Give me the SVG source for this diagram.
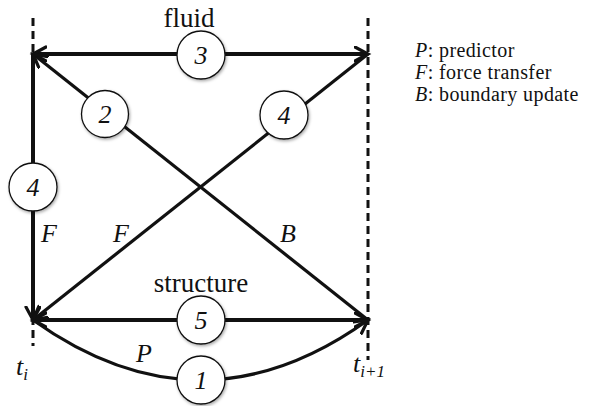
<svg xmlns="http://www.w3.org/2000/svg" width="604" height="406" viewBox="0 0 604 406">
<defs>
<marker id="ah" markerWidth="18" markerHeight="18" refX="14" refY="8" orient="auto" markerUnits="userSpaceOnUse">
<path d="M1,1 L14,8 L1,15" fill="none" stroke="#111" stroke-width="3.2" stroke-linecap="round" stroke-linejoin="miter"/>
</marker>
<marker id="ahs" markerWidth="18" markerHeight="18" refX="14" refY="8" orient="auto-start-reverse" markerUnits="userSpaceOnUse">
<path d="M1,1 L14,8 L1,15" fill="none" stroke="#111" stroke-width="3.2" stroke-linecap="round" stroke-linejoin="miter"/>
</marker>
<filter id="sh" x="-30%" y="-30%" width="160%" height="160%">
<feDropShadow dx="1" dy="1.5" stdDeviation="1.5" flood-color="#000" flood-opacity="0.35"/>
</filter>
</defs>
<style>
.dash{stroke:#111;stroke-width:3;stroke-dasharray:8 5;fill:none}
.thick{stroke:#111;stroke-width:4;fill:none}
.thin{stroke:#111;stroke-width:3.2;fill:none}
.node circle{fill:#fff;stroke:#111;stroke-width:1.3;filter:url(#sh)}
.num{font-family:"Liberation Serif","Times New Roman",serif;font-style:italic;font-size:26px;text-anchor:middle;fill:#111}
.lbl{font-family:"Liberation Serif","Times New Roman",serif;font-size:27px;text-anchor:middle;fill:#111}
.it{font-family:"Liberation Serif","Times New Roman",serif;font-style:italic;font-size:26px;fill:#111}
.leg{font-family:"Liberation Serif","Times New Roman",serif;font-size:20px;letter-spacing:0.4px;fill:#111}
</style>
<rect width="604" height="406" fill="#fff"/>
<g id="timelines">
<line class="dash" x1="33" y1="18" x2="33" y2="346"/>
<line class="dash" x1="368" y1="18" x2="368" y2="360"/>
</g>
<g id="connectors">
<line class="thick" x1="33" y1="54" x2="368" y2="54" marker-start="url(#ahs)" marker-end="url(#ah)"/>
<line class="thick" x1="33" y1="320" x2="368" y2="320" marker-start="url(#ahs)" marker-end="url(#ah)"/>
<line class="thick" x1="33" y1="54" x2="33" y2="320" marker-end="url(#ah)"/>
<line class="thin" x1="368" y1="320" x2="33" y2="54" marker-end="url(#ah)"/>
<line class="thin" x1="368" y1="54" x2="33" y2="320" marker-end="url(#ah)"/>
<path class="thin" d="M33,320 Q201,440 368,320" marker-end="url(#ah)"/>
</g>
<g id="labels">
<text class="lbl" x="189" y="27">fluid</text>
<text class="lbl" x="201" y="292">structure</text>
<text class="it" x="41" y="242">F</text>
<text class="it" x="113" y="242">F</text>
<text class="it" x="280" y="242">B</text>
<text class="it" x="136" y="362">P</text>
<text class="it" x="16" y="375">t<tspan font-size="17" dy="5">i</tspan></text>
<text class="it" x="353" y="372">t<tspan font-size="17" dy="5">i+1</tspan></text>
</g>
<g id="n3" class="node"><circle cx="201" cy="55" r="24"/><text class="num" x="201" y="64">3</text></g>
<g id="n2" class="node"><circle cx="105" cy="114" r="23.5"/><text class="num" x="105" y="123">2</text></g>
<g id="n4a" class="node"><circle cx="284" cy="115" r="24"/><text class="num" x="284" y="124">4</text></g>
<g id="n4b" class="node"><circle cx="33" cy="187" r="24"/><text class="num" x="33" y="196">4</text></g>
<g id="n5" class="node"><circle cx="201" cy="320" r="24"/><text class="num" x="201" y="329">5</text></g>
<g id="n1" class="node"><circle cx="201" cy="380" r="24"/><text class="num" x="201" y="389">1</text></g>
<g id="legend">
<text class="leg" x="415" y="57"><tspan font-style="italic">P</tspan>: predictor</text>
<text class="leg" x="415" y="79"><tspan font-style="italic">F</tspan>: force transfer</text>
<text class="leg" x="415" y="101"><tspan font-style="italic">B</tspan>: boundary update</text>
</g>
</svg>
